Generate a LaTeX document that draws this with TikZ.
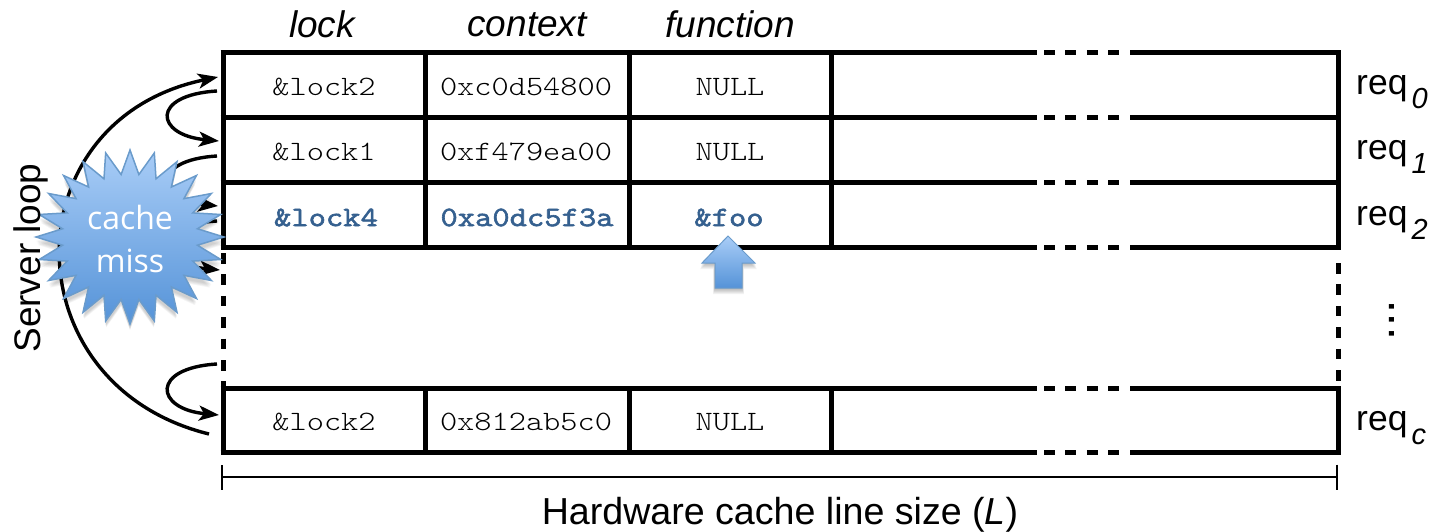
\documentclass[tikz,border=0pt]{standalone}
\usepackage{fontspec}
\setmainfont{Liberation Sans}
\setmonofont[FakeStretch=1.17]{Latin Modern Mono Light}
\newfontfamily\hifont[FakeStretch=1.2,FakeBold=2.2]{Latin Modern Mono}
\newfontfamily\starfont{Open Sans}
\usetikzlibrary{arrows.meta}
\definecolor{hiblue}{HTML}{35608F}
\definecolor{startop}{HTML}{A9CDF7}
\definecolor{starbot}{HTML}{5593D8}
\definecolor{staredge}{HTML}{6A9BCB}
\tikzset{
  x=1pt,y=-1pt,
  gridline/.style={line width=5pt,draw=black},
  griddash/.style={line width=5pt,draw=black,dash pattern=on 10.5pt off 10.9pt},
  cell/.style={font=\ttfamily\fontsize{28}{28}\selectfont,inner sep=0pt,anchor=center},
  hicell/.style={font=\hifont\fontsize{28}{28}\selectfont,text=hiblue,inner sep=0pt,anchor=center},
  head/.style={font=\itshape\fontsize{37}{37}\selectfont,inner sep=0pt,anchor=base},
  reqlab/.style={font=\fontsize{35.5}{35.5}\selectfont,inner sep=0pt,anchor=base west},
  loop/.style={line width=3.4pt,draw=black,-{Stealth[length=20pt,width=15pt,inset=5pt]}},
  blobfill/.style={top color=startop,bottom color=starbot,draw=staredge,line width=1.5pt},
}
\newcommand{\reqtxt}[1]{req\raisebox{-14pt}{\kern4pt\itshape\fontsize{29}{29}\selectfont #1}}
\newcommand{\starpath}{plot[samples at={0,...,47},variable=\k] ({130+(mod(\k,2)==0?94:68)*sin(\k*7.5)},{237-(mod(\k,2)==0?87:63)*cos(\k*7.5)}) -- cycle}
\begin{document}
\begin{tikzpicture}
\useasboundingbox (0,0) rectangle (1433,532);
% horizontal lines
\foreach \y in {53,118,183,247,388,452}{
  \draw[gridline] (220.5,\y) -- (1037,\y);
  \draw[gridline] (1130,\y) -- (1340.5,\y);
  \draw[gridline,dash pattern=on 11pt off 10.4pt] (1044,\y) -- (1120,\y);
}
% vertical lines
\foreach \x in {223,425,629,831,1338}{
  \draw[gridline] (\x,53) -- (\x,247);
  \draw[gridline] (\x,388) -- (\x,452);
}
\draw[griddash] (223,253) -- (223,388);
\draw[griddash] (1338,263) -- (1338,381);
% cells
\node[cell] (a0) at (324,87) {\&lock2};
\node[cell] (b0) at (526,87) {0xc0d54800};
\node[cell] (c0) at (730,87) {NULL};
\node[cell] (a1) at (324,152) {\&lock1};
\node[cell] (b1) at (526,152) {0xf479ea00};
\node[cell] (c1) at (730,152) {NULL};
\node[hicell] (a2) at (326,217.5) {\&lock4};
\node[hicell] (b2) at (527,217.5) {0xa0dc5f3a};
\node[hicell] (c2) at (729,217.5) {\&foo};
\node[cell] (a3) at (324,422) {\&lock2};
\node[cell] (b3) at (526,422) {0x812ab5c0};
\node[cell] (c3) at (730,422) {NULL};
% headers
\node[head] (h1) at (322,38) {lock};
\node[head] (h2) at (527,37) {context};
\node[head] (h3) at (730,38) {function};
% req labels
\node[reqlab] (r0) at (1356,95) {\reqtxt{0}};
\node[reqlab] (r1) at (1356,160) {\reqtxt{1}};
\node[reqlab] (r2) at (1356,225) {\reqtxt{2}};
\node[reqlab] (r3) at (1356,430) {\reqtxt{c}};
\node[inner sep=0pt,font=\fontsize{48}{48}\selectfont] (rd) at (1392,320) {\rotatebox{90}{...}};
% loop arrows
\coordinate (t0) at (218,77);
\coordinate (f0) at (217,91);
\coordinate (t1) at (219,141);
\coordinate (f1) at (217,156);
\coordinate (t2) at (218,206);
\coordinate (f2) at (217,221);
\coordinate (t3) at (220,270);
\coordinate (f4) at (217,364);
\coordinate (t4) at (219,415);
\coordinate (f5) at (209,434);
\draw[loop] (f5) .. controls (10,385) and (10,120) .. (t0);
\draw[loop] (f0) .. controls (150,95) and (155,135) .. (t1);
\draw[loop] (f1) .. controls (150,160) and (155,200) .. (t2);
\draw[loop] (f2) .. controls (150,225) and (155,264) .. (t3);
\draw[loop] (f4) .. controls (150,368) and (155,409) .. (t4);
% star shadow
\foreach \s/\o in {1.0/4,0.995/5,0.99/6,0.985/7,0.98/8}{
  \fill[black,opacity=0.04,shift={(130,237+\o)},scale=\s,shift={(-130,-237)}] \starpath;
}
\path[blobfill] \starpath;
\node[font=\starfont\fontsize{32}{43}\selectfont,text=white,align=center,inner sep=0pt] (miss) at (130,239) {cache\\miss};
% small up arrow
\foreach \d in {1,2,3,4,5,6}{
  \fill[black,opacity=0.05] (728,236+\d) -- (755+\d*0.3,263+\d) -- (742+\d*0.3,263+\d) -- (742+\d*0.3,288+\d) -- (715-\d*0.3,288+\d) -- (715-\d*0.3,263+\d) -- (702-\d*0.3,263+\d) -- cycle;
}
\path[blobfill,line width=1pt] (728,236) -- (755,263) -- (742,263) -- (742,288) -- (715,288) -- (715,263) -- (702,263) -- cycle;
% server loop
\node[font=\fontsize{37}{37}\selectfont,rotate=90,inner sep=0pt] (sl) at (31,258) {Server loop};
% bracket
\coordinate (bl) at (221,477);
\coordinate (br) at (1338,477);
\draw[line width=1.8pt,{Bar[width=25pt,line width=1.8pt]}-{Bar[width=25pt,line width=1.8pt]}] (bl) -- (br);
\node[font=\fontsize{37.6}{37.6}\selectfont,inner sep=0pt] (hw) at (780,515) {Hardware cache line size (\textit{L})};
\end{tikzpicture}
\end{document}
